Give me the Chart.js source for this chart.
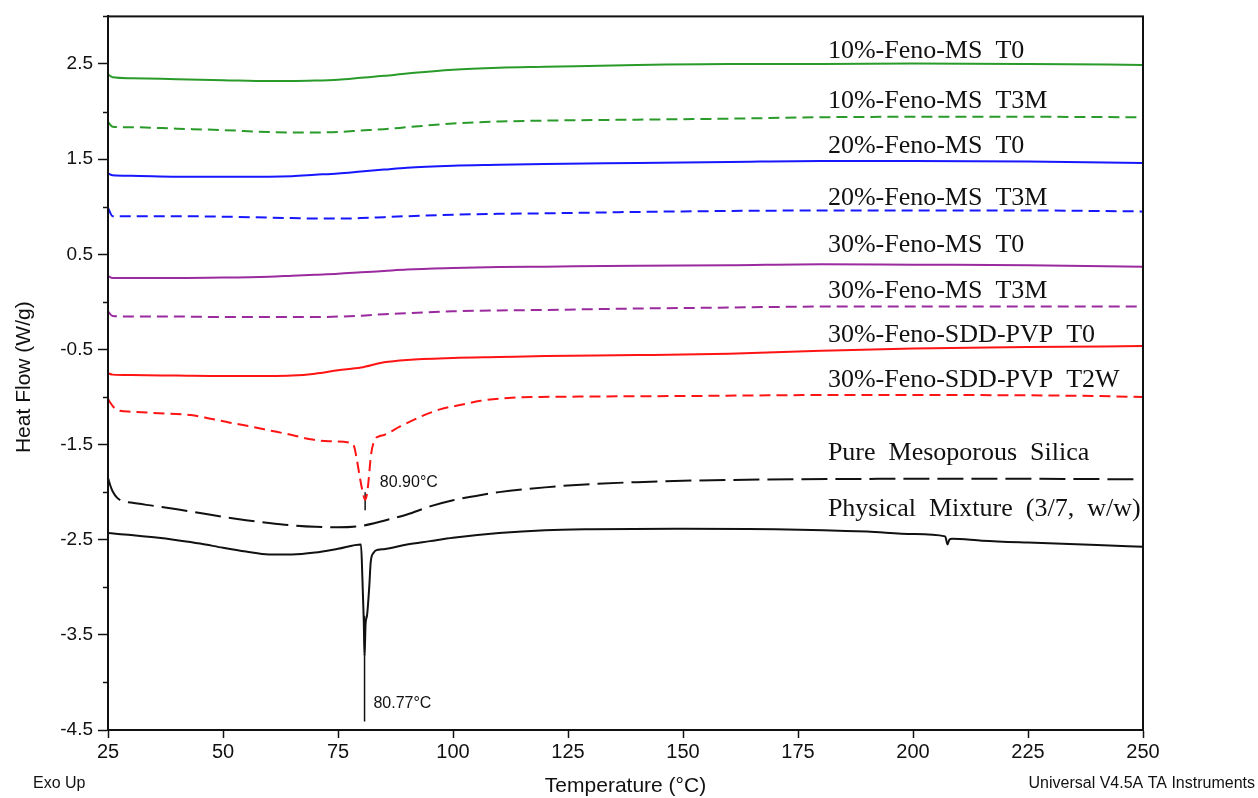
<!DOCTYPE html>
<html>
<head>
<meta charset="utf-8">
<script src="https://cdn.jsdelivr.net/npm/chart.js@4.4.1/dist/chart.umd.min.js"></script>
<style>
  html, body { margin: 0; padding: 0; background: #fff; }
  canvas { display: block; }
</style>
</head>
<body>
<canvas id="dsc" width="1258" height="798"></canvas>
<script>
// shared temperature grid (°C) for the smooth traces
const temps = [25, 26, 30, 40, 50, 60, 65, 70, 75, 80, 85, 90, 100, 110, 120, 140, 160, 180, 200, 225, 250];

const ms10T0  = [2.39, 2.36, 2.35, 2.34, 2.33, 2.32, 2.32, 2.325, 2.335, 2.355, 2.375, 2.40, 2.44, 2.46, 2.47, 2.49, 2.50, 2.50, 2.505, 2.50, 2.49];
const ms10T3M = [1.89, 1.84, 1.835, 1.82, 1.805, 1.785, 1.78, 1.78, 1.785, 1.80, 1.815, 1.835, 1.875, 1.895, 1.905, 1.915, 1.925, 1.94, 1.945, 1.945, 1.94];
const ms20T0  = [1.35, 1.33, 1.325, 1.315, 1.315, 1.315, 1.32, 1.335, 1.35, 1.37, 1.39, 1.41, 1.43, 1.44, 1.45, 1.46, 1.47, 1.48, 1.48, 1.475, 1.46];
const ms20T3M = [0.99, 0.90, 0.90, 0.90, 0.895, 0.885, 0.88, 0.875, 0.875, 0.88, 0.89, 0.90, 0.915, 0.925, 0.93, 0.945, 0.955, 0.96, 0.96, 0.96, 0.95];
const ms30T0  = [0.27, 0.25, 0.25, 0.25, 0.255, 0.265, 0.275, 0.285, 0.295, 0.31, 0.325, 0.34, 0.355, 0.365, 0.37, 0.38, 0.385, 0.395, 0.39, 0.385, 0.37];
const ms30T3M = [-0.10, -0.15, -0.155, -0.155, -0.16, -0.16, -0.16, -0.16, -0.155, -0.145, -0.13, -0.12, -0.10, -0.09, -0.085, -0.07, -0.06, -0.05, -0.05, -0.05, -0.05];
const sddT0   = [-0.75, -0.765, -0.77, -0.775, -0.78, -0.78, -0.775, -0.755, -0.72, -0.69, -0.635, -0.61, -0.59, -0.58, -0.57, -0.56, -0.545, -0.515, -0.49, -0.475, -0.465];

// traces with the melting peak need their own temperature points
const sddT2WTemps = [25, 25.5, 26.5, 27.6, 30, 36, 43, 47, 51.5, 56, 60, 65, 69, 73, 77.6, 78.5, 79.1, 79.7, 80.2, 80.9, 81.3, 81.6, 82.2, 83, 84.1, 85, 88.5, 92.8, 97.2, 101.5, 106, 112, 119, 130, 150, 180, 210, 240, 250];
const sddT2W      = [-1.02, -1.06, -1.12, -1.145, -1.155, -1.17, -1.19, -1.225, -1.27, -1.31, -1.35, -1.40, -1.445, -1.465, -1.48, -1.52, -1.66, -1.83, -1.96, -2.08, -2.02, -1.90, -1.60, -1.45, -1.41, -1.40, -1.31, -1.21, -1.13, -1.085, -1.04, -1.01, -1.00, -0.995, -0.99, -0.98, -0.98, -0.99, -1.00];

const silicaTemps = [25, 25.5, 26, 27, 28, 30, 35, 40, 45, 50, 55, 60, 65, 70, 75, 80, 85, 90, 95, 100, 105, 110, 120, 130, 140, 150, 175, 200, 225, 249];
const silica      = [-1.85, -1.93, -1.99, -2.06, -2.09, -2.11, -2.145, -2.18, -2.22, -2.26, -2.295, -2.325, -2.35, -2.365, -2.37, -2.355, -2.30, -2.235, -2.15, -2.085, -2.04, -2.00, -1.95, -1.915, -1.895, -1.88, -1.865, -1.86, -1.86, -1.865];

const mixTemps = [25, 30, 35, 40, 45, 50, 55, 60, 65, 70, 75, 80, 80.3, 80.6, 80.77, 81.0, 81.3, 81.8, 82.1, 82.7, 83.8, 85, 90, 95, 100, 110, 120, 130, 150, 170, 190, 200, 207, 207.5, 207.9, 208.5, 215, 225, 240, 250];
const mix      = [-2.43, -2.45, -2.475, -2.505, -2.54, -2.585, -2.625, -2.655, -2.655, -2.635, -2.595, -2.55, -2.9, -3.35, -3.72, -3.38, -3.3, -2.99, -2.74, -2.64, -2.605, -2.60, -2.55, -2.515, -2.48, -2.43, -2.40, -2.39, -2.385, -2.39, -2.415, -2.44, -2.465, -2.55, -2.50, -2.49, -2.51, -2.53, -2.555, -2.575];

// peak markers
const peakTemps = [80.90, 80.77];
const markerTop = [-2.0, -3.3];
const markerBottom = [-2.19, -4.41];
const peakLabelX = [84.1, 82.7];
const peakLabelY = [-1.945, -4.27];

// trace names written beside the curves
const seriesNames = [
  '10%-Feno-MS  T0', '10%-Feno-MS  T3M', '20%-Feno-MS  T0', '20%-Feno-MS  T3M',
  '30%-Feno-MS  T0', '30%-Feno-MS  T3M', '30%-Feno-SDD-PVP  T0', '30%-Feno-SDD-PVP  T2W',
  'Pure  Mesoporous  Silica', 'Physical  Mixture  (3/7,  w/w)'
];
const nameX = 181.5;
const nameY = [2.568, 2.034, 1.563, 1.018, 0.526, 0.045, -0.427, -0.898, -1.66, -2.25];

const yTicksMin = -4.5, yTicksMax = 3.0;

const GREEN = '#2a9b2a', BLUE = '#1717ff', PURPLE = '#9a2a9e', RED = '#ff1414', BLACK = '#111111';
const DASH = [11, 6];

const pts = (xs, ys) => xs.map((x, i) => ({ x: x, y: ys[i] }));

function trace(label, xs, ys, color, dash) {
  return {
    label: label,
    data: pts(xs, ys),
    borderColor: color,
    borderWidth: 2,
    borderDash: dash || [],
    pointRadius: 0,
    fill: false,
    cubicInterpolationMode: 'monotone'
  };
}

const datasets = [
  trace(seriesNames[0], temps, ms10T0, GREEN),
  trace(seriesNames[1], temps, ms10T3M, GREEN, DASH),
  trace(seriesNames[2], temps, ms20T0, BLUE),
  trace(seriesNames[3], temps, ms20T3M, BLUE, DASH),
  trace(seriesNames[4], temps, ms30T0, PURPLE),
  trace(seriesNames[5], temps, ms30T3M, PURPLE, DASH),
  trace(seriesNames[6], temps, sddT0, RED),
  trace(seriesNames[7], sddT2WTemps, sddT2W, RED, DASH),
  trace(seriesNames[8], silicaTemps, silica, BLACK, [26, 8]),
  trace(seriesNames[9], mixTemps, mix, BLACK)
];
peakTemps.forEach((t, i) => {
  datasets.push({
    label: 'peak ' + t,
    data: [{ x: t, y: markerTop[i] }, { x: t, y: markerBottom[i] }],
    borderColor: BLACK,
    borderWidth: 1.5,
    pointRadius: 0,
    fill: false
  });
});

const decorations = {
  id: 'decorations',
  afterDraw(chart) {
    const ctx = chart.ctx;
    const area = chart.chartArea;
    const xs = chart.scales.x, ys = chart.scales.y;
    ctx.save();
    // frame
    ctx.strokeStyle = '#111';
    ctx.lineWidth = 2;
    ctx.strokeRect(area.left, area.top, area.right - area.left, area.bottom - area.top);
    // minor ticks on the y axis (integer values)
    ctx.lineWidth = 1.5;
    for (let v = Math.ceil(yTicksMin); v <= yTicksMax; v += 1) {
      const py = Math.round(ys.getPixelForValue(v)) + 0.5;
      ctx.beginPath();
      ctx.moveTo(area.left - 5, py);
      ctx.lineTo(area.left, py);
      ctx.stroke();
    }
    // trace names
    ctx.fillStyle = '#111';
    ctx.font = '26px "Liberation Serif", "Times New Roman", serif';
    ctx.textAlign = 'left';
    ctx.textBaseline = 'alphabetic';
    seriesNames.forEach((name, i) => {
      ctx.fillText(name, xs.getPixelForValue(nameX), ys.getPixelForValue(nameY[i]));
    });
    // peak labels
    ctx.font = '16px "Liberation Sans", Arial, sans-serif';
    peakTemps.forEach((t, i) => {
      ctx.fillText(t.toFixed(2) + '°C', xs.getPixelForValue(peakLabelX[i]), ys.getPixelForValue(peakLabelY[i]));
    });
    // axis titles and footers
    ctx.font = '21px "Liberation Sans", Arial, sans-serif';
    ctx.textAlign = 'center';
    ctx.fillText('Temperature (°C)', (area.left + area.right) / 2, 792);
    ctx.save();
    ctx.translate(30, (area.top + area.bottom) / 2 + 4);
    ctx.rotate(-Math.PI / 2);
    ctx.fillText('Heat Flow (W/g)', 0, 0);
    ctx.restore();
    ctx.font = '16px "Liberation Sans", Arial, sans-serif';
    ctx.textAlign = 'left';
    ctx.fillText('Exo Up', 33, 788);
    ctx.textAlign = 'right';
    ctx.fillText('Universal V4.5A TA Instruments', 1255, 788);
    ctx.restore();
  }
};

new Chart(document.getElementById('dsc'), {
  type: 'line',
  data: { datasets: datasets },
  options: {
    responsive: false,
    animation: false,
    layout: { padding: { top: 14, right: 115, bottom: 0, left: 0 } },
    plugins: { legend: { display: false }, tooltip: { enabled: false } },
    scales: {
      x: {
        type: 'linear',
        min: 25,
        max: 250,
        afterFit: (s) => { s.height = 68; },
        border: { color: '#111', width: 2 },
        grid: { drawOnChartArea: false, drawTicks: true, tickLength: 8, tickColor: '#111', tickWidth: 1.5 },
        ticks: {
          stepSize: 25,
          autoSkip: false,
          maxRotation: 0,
          padding: 2,
          color: '#111',
          font: { family: '"Liberation Sans", Arial, sans-serif', size: 20 }
        }
      },
      y: {
        type: 'linear',
        min: yTicksMin,
        max: yTicksMax,
        afterFit: (s) => { s.width = 108; },
        border: { color: '#111', width: 2 },
        grid: {
          drawOnChartArea: false,
          drawTicks: true,
          tickLength: 10,
          tickWidth: 1.5,
          tickColor: (c) => (c.tick && Math.abs(Math.round(c.tick.value * 2)) % 2 === 1) ? '#111' : 'rgba(0,0,0,0)'
        },
        ticks: {
          stepSize: 0.5,
          autoSkip: false,
          padding: 5,
          color: '#111',
          font: { family: '"Liberation Sans", Arial, sans-serif', size: 19 },
          callback: (v) => (Math.abs(Math.round(v * 2)) % 2 === 1) ? v.toFixed(1) : ''
        }
      }
    }
  },
  plugins: [decorations]
});
</script>
</body>
</html>
